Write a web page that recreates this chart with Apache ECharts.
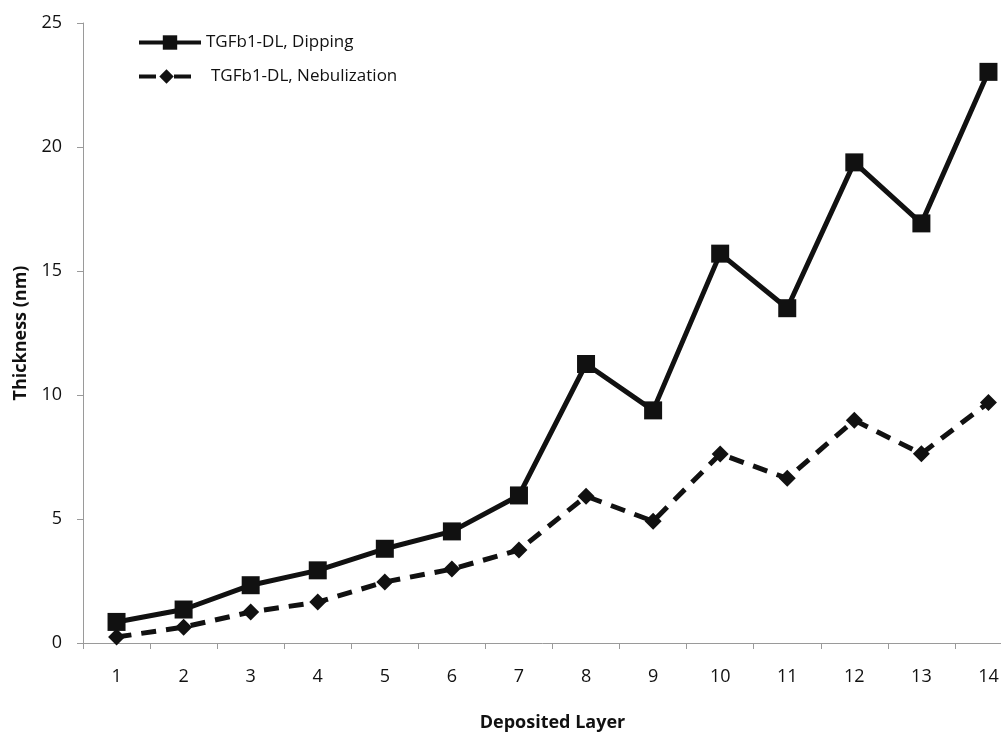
<!DOCTYPE html>
<html>
<head>
<meta charset="utf-8">
<script src="https://cdn.jsdelivr.net/npm/echarts@6/dist/echarts.min.js"></script>
<style>
  html, body { margin: 0; padding: 0; background: #fff; overflow: hidden; }
  #chart { width: 1001px; height: 732px; }
</style>
</head>
<body>
<div id="chart"></div>
<script>
// Film thickness per deposited layer for the two deposition methods
const layers = ['1', '2', '3', '4', '5', '6', '7', '8', '9', '10', '11', '12', '13', '14'];
const dipping = [0.85, 1.35, 2.33, 2.93, 3.8, 4.5, 5.95, 11.25, 9.38, 15.7, 13.5, 19.38, 16.92, 23.03];
const nebulization = [0.24, 0.64, 1.25, 1.65, 2.46, 2.98, 3.75, 5.92, 4.91, 7.62, 6.64, 8.98, 7.63, 9.7];
const yTicks = { min: 0, max: 25, interval: 5 };

const FONT = '"Open Sans", Lato, sans-serif';
const INK = '#111';
const AXIS = '#9a9a9a';

const chart = echarts.init(document.getElementById('chart'), null, { renderer: 'canvas' });

chart.setOption({
  backgroundColor: '#ffffff',
  animation: false,
  textStyle: { fontFamily: FONT, color: INK },
  // the plot area runs a little past the right edge of the canvas
  grid: { left: 83, right: -21, top: 23, bottom: 89, containLabel: false, outerBoundsMode: 'none' },
  legend: [
    {
      left: 132, top: 29,
      orient: 'vertical',
      itemWidth: 62, itemHeight: 18,
      lineStyle: { width: 4 },
      data: ['TGFb1-DL, Dipping'],
      textStyle: { fontFamily: FONT, fontSize: 17, color: INK }
    },
    {
      left: 132, top: 63,
      orient: 'vertical',
      itemWidth: 55, itemHeight: 18,
      lineStyle: { width: 4, type: [17, 18] },
      data: ['TGFb1-DL, Nebulization'],
      formatter: name => '{t|' + name + '}',
      textStyle: {
        fontFamily: FONT, fontSize: 17, color: INK,
        rich: { t: { fontFamily: FONT, fontSize: 17, color: INK, padding: [0, 0, 0, 12] } }
      }
    }
  ],
  xAxis: {
    type: 'category',
    data: layers,
    boundaryGap: true,
    name: 'Deposited Layer',
    nameLocation: 'middle',
    nameGap: 71,
    nameTextStyle: { fontFamily: FONT, fontSize: 18, fontWeight: 'bold', color: INK },
    axisLine: { lineStyle: { color: AXIS, width: 1 } },
    axisTick: { show: true, length: 6, lineStyle: { color: AXIS } },
    axisLabel: { fontFamily: FONT, fontSize: 18, color: INK, margin: 25 },
    splitLine: { show: false }
  },
  yAxis: {
    type: 'value',
    min: yTicks.min, max: yTicks.max, interval: yTicks.interval,
    name: 'Thickness (nm)',
    nameLocation: 'middle',
    nameRotate: 90,
    nameGap: 53,
    nameTextStyle: { fontFamily: FONT, fontSize: 18, fontWeight: 'bold', color: INK },
    axisLine: { show: true, lineStyle: { color: AXIS, width: 1 } },
    axisTick: { show: true, length: 6, lineStyle: { color: AXIS } },
    axisLabel: { fontFamily: FONT, fontSize: 18, color: INK, margin: 21 },
    splitLine: { show: false }
  },
  series: [
    {
      name: 'TGFb1-DL, Dipping',
      type: 'line',
      data: dipping,
      symbol: 'rect',
      symbolSize: 18,
      lineStyle: { color: INK, width: 5 },
      itemStyle: { color: INK },
      z: 3
    },
    {
      name: 'TGFb1-DL, Nebulization',
      type: 'line',
      data: nebulization,
      symbol: 'diamond',
      symbolSize: 17,
      lineStyle: { color: INK, width: 5, type: [15, 10] },
      itemStyle: { color: INK },
      z: 2
    }
  ]
});
</script>
</body>
</html>
